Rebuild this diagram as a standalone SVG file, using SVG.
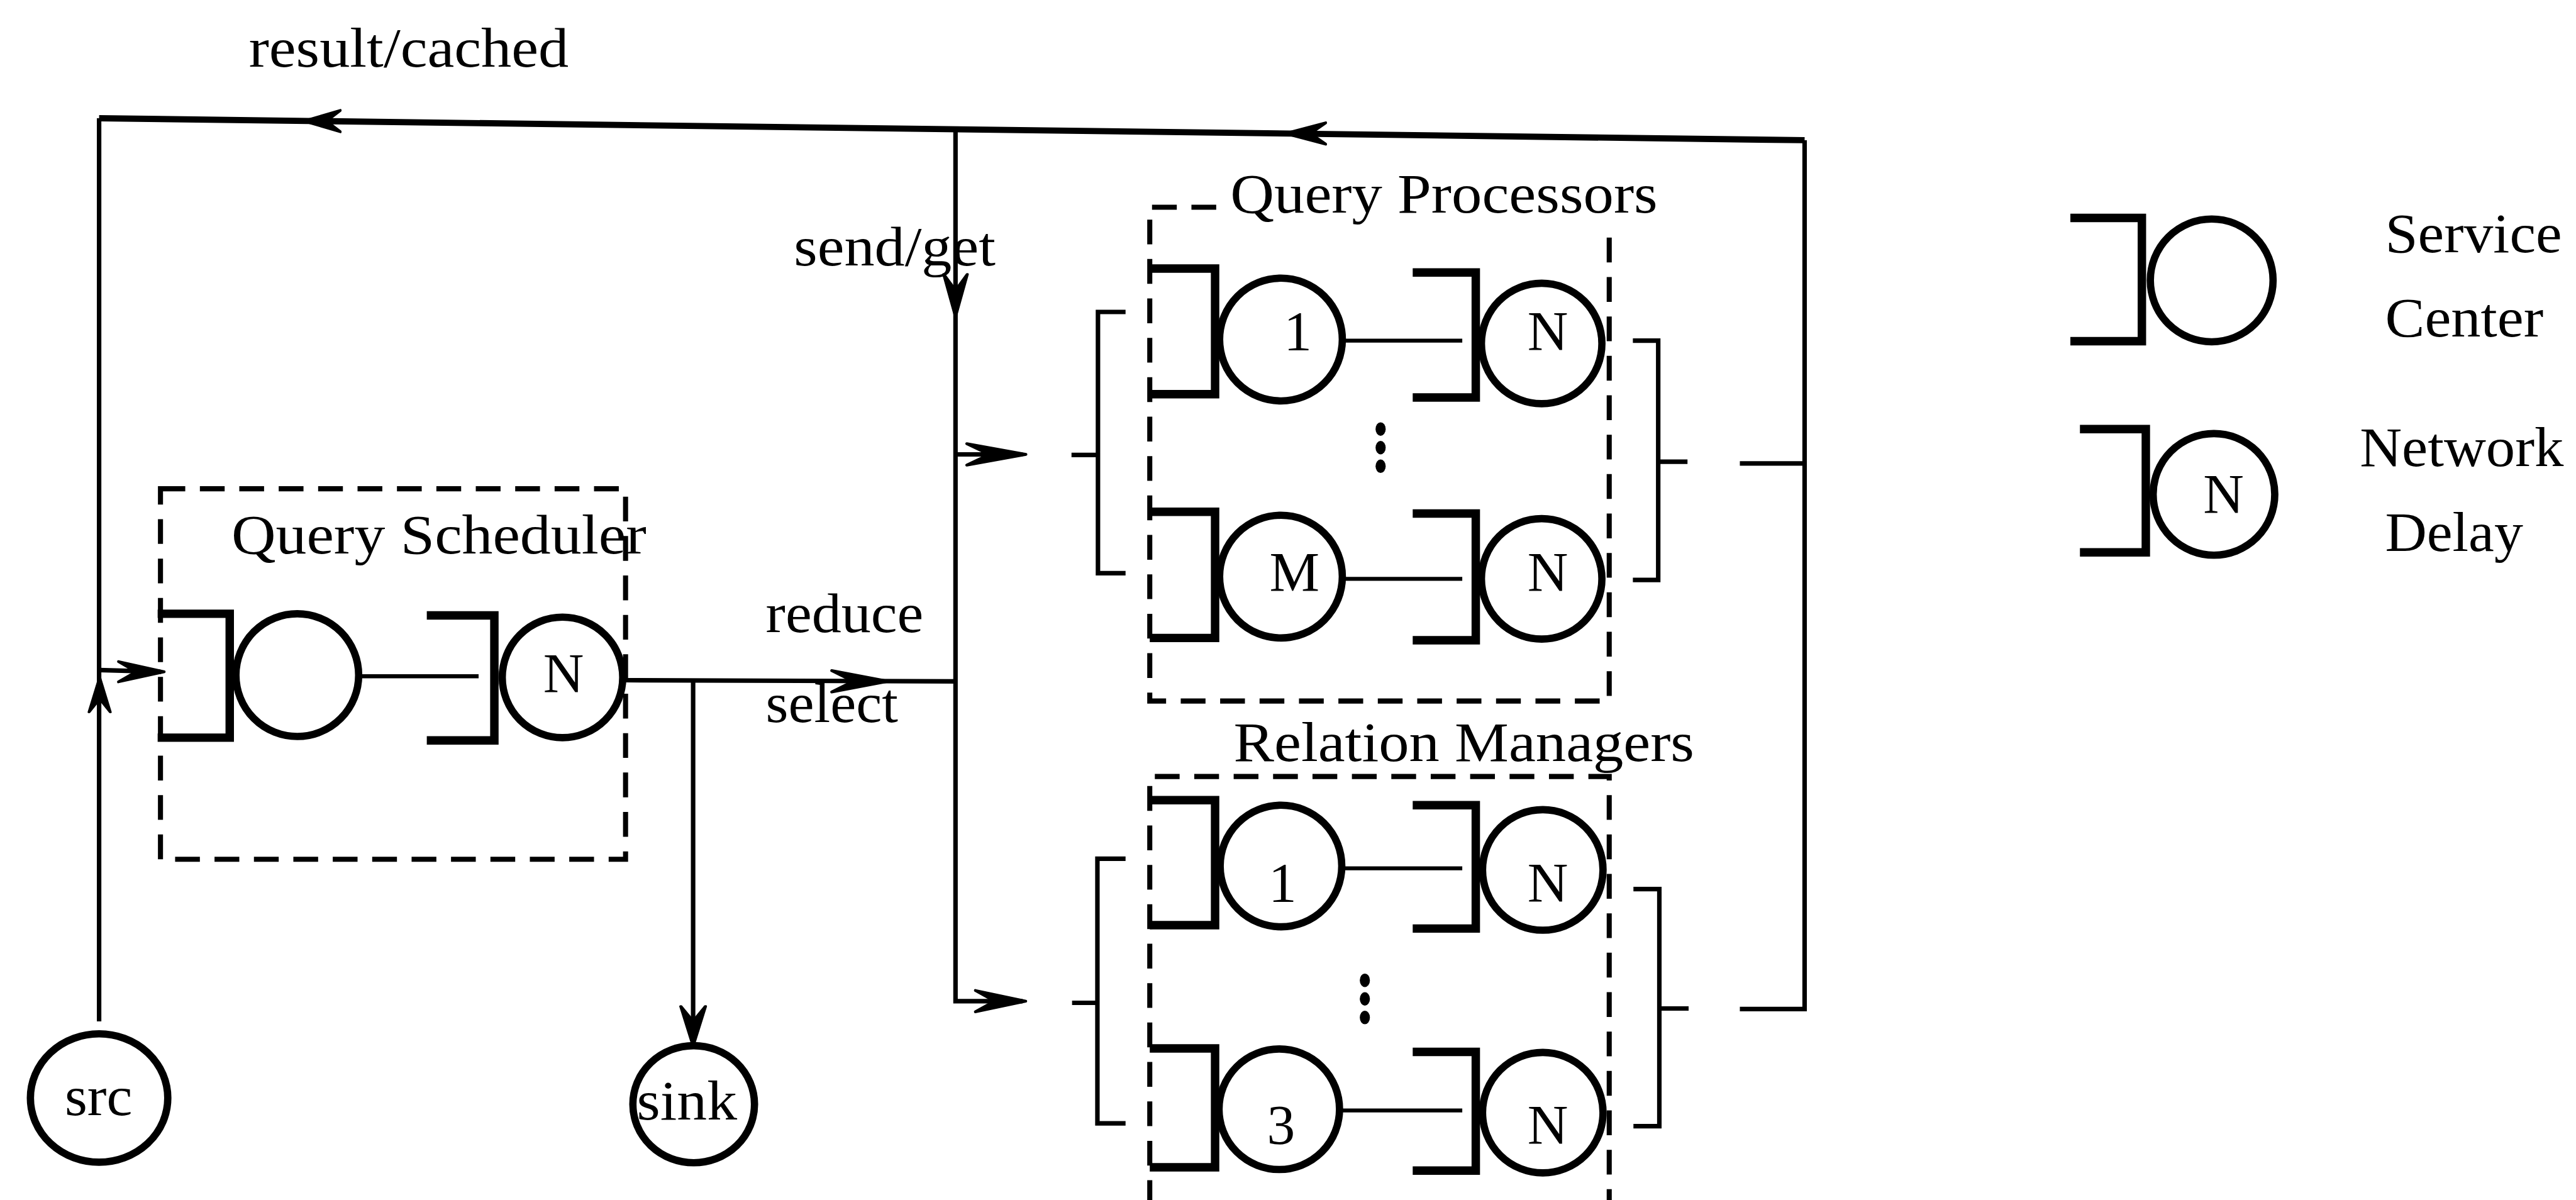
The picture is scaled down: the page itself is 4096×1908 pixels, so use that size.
<svg xmlns="http://www.w3.org/2000/svg" xmlns:xlink="http://www.w3.org/1999/xlink" width="4096" height="1908" viewBox="0 0 4096 1908">
<style>
.ln{fill:none;stroke:#000;stroke-width:8;stroke-linecap:butt}
.top{stroke-width:11}
.thin{stroke-width:7}
.br{fill:none;stroke:#000;stroke-width:15;stroke-linejoin:miter}
.ci{fill:none;stroke:#000;stroke-width:13}
.db{fill:none;stroke:#000;stroke-width:9;stroke-dasharray:44 26}
.t{font-family:"Liberation Serif","Times New Roman",serif;font-size:100px;fill:#000}
.c{text-anchor:middle}
.dot{fill:#000}
</style>
<defs>
<path id="ah" d="M0,0 L-100,-19 L-62,0 L-100,19 Z" fill="#000" stroke="#000" stroke-width="5" stroke-linejoin="round"/>
</defs>
<rect width="4096" height="1908" fill="#fff"/>
<g transform="scale(0.8953)">
<g id="connectors">
<path class="ln top" d="M176,210 L3205,249"/>
<path class="ln" d="M176,210 V1814"/>
<path class="ln" d="M176,1190 L286,1193"/>
<path class="ln" d="M1697,230 V1778 H1816"/>
<path class="ln" d="M1697,807 H1816"/>
<path class="ln" d="M1108,1208 L1697,1210"/>
<path class="ln" d="M1231,1209 V1852"/>
<path class="ln" d="M3205,249 V1792 H3090"/>
<path class="ln" d="M3090,823 H3205"/>
<path class="ln" d="M1999,554 H1950 V1018 H1999 M1903,808 H1950"/>
<path class="ln" d="M2900,605 H2945 V1030 H2900 M2945,820 H2997"/>
<path class="ln" d="M1999,1525 H1949 V1995 H1999 M1904,1781 H1949"/>
<path class="ln" d="M2901,1579 H2947 V2000 H2901 M2947,1791 H2999"/>
<use xlink:href="#ah" transform="translate(540,215) rotate(180) scale(0.65,1)"/>
<use xlink:href="#ah" transform="translate(2283,237) rotate(180) scale(0.72,1)"/>
<use xlink:href="#ah" transform="translate(1697,562) rotate(90) scale(0.75,1.1)"/>
<use xlink:href="#ah" transform="translate(1822,807) scale(1.05,1)"/>
<use xlink:href="#ah" transform="translate(1822,1778) scale(0.9,1)"/>
<use xlink:href="#ah" transform="translate(1577,1210) scale(1,1)"/>
<use xlink:href="#ah" transform="translate(1231,1857) rotate(90) scale(0.7,1.15)"/>
<use xlink:href="#ah" transform="translate(177,1203) rotate(-90) scale(0.62,1)"/>
<use xlink:href="#ah" transform="translate(292,1193) scale(0.82,0.95)"/>
</g>
<g id="labels">
<text class="t" x="442" y="118" textLength="568" lengthAdjust="spacingAndGlyphs">result/cached</text>
<text class="t" x="1410" y="471" textLength="358" lengthAdjust="spacingAndGlyphs">send/get</text>
<text class="t" x="1360" y="1122" textLength="280" lengthAdjust="spacingAndGlyphs">reduce</text>
<text class="t" x="1360" y="1282" textLength="235" lengthAdjust="spacingAndGlyphs">select</text>
</g>
<g id="src">
<ellipse class="ci" cx="176" cy="1950" rx="122" ry="114"/>
<text class="t" x="115" y="1980" textLength="120" lengthAdjust="spacingAndGlyphs">src</text>
</g>
<g id="sink">
<ellipse class="ci" cx="1232" cy="1961" rx="108" ry="104"/>
<text class="t" x="1131" y="1988" textLength="178" lengthAdjust="spacingAndGlyphs">sink</text>
</g>
<g id="query-scheduler">
<rect class="db" x="285" y="868" width="826" height="658"/>
<text class="t" x="411" y="983" textLength="737" lengthAdjust="spacingAndGlyphs">Query Scheduler</text>
<path class="br" d="M280,1090 H408 V1310 H280"/>
<circle class="ci" cx="528" cy="1199" r="109"/>
<path class="ln thin" d="M637,1201 H850"/>
<path class="br" d="M758,1093 H878 V1315 H758"/>
<circle class="ci" cx="999" cy="1203" r="107"/>
<text class="t c" x="1001" y="1229">N</text>
</g>
<g id="query-processors">
<path class="db" d="M2160,368 H2042 V1245 H2858 V396"/>
<text class="t" x="2185" y="378" textLength="759" lengthAdjust="spacingAndGlyphs">Query Processors</text>
<path class="br" d="M2042,477 H2158 V700 H2042"/>
<circle class="ci" cx="2275" cy="603" r="109"/>
<text class="t c" x="2305" y="621">1</text>
<path class="ln thin" d="M2386,605 H2597"/>
<path class="br" d="M2509,484 H2621 V706 H2509"/>
<circle class="ci" cx="2738" cy="610" r="107"/>
<text class="t c" x="2749" y="621">N</text>
<ellipse class="dot" cx="2452" cy="762" rx="9" ry="12"/>
<ellipse class="dot" cx="2452" cy="795" rx="9" ry="12"/>
<ellipse class="dot" cx="2452" cy="828" rx="9" ry="12"/>
<path class="br" d="M2042,909 H2158 V1133 H2042"/>
<circle class="ci" cx="2275" cy="1024" r="109"/>
<text class="t c" x="2299" y="1049">M</text>
<path class="ln thin" d="M2386,1028 H2597"/>
<path class="br" d="M2509,912 H2621 V1137 H2509"/>
<circle class="ci" cx="2738" cy="1028" r="107"/>
<text class="t c" x="2749" y="1049">N</text>
</g>
<g id="relation-managers">
<path class="db" d="M2042,2140 V1379 H2858 V2140"/>
<text class="t" x="2191" y="1351" textLength="818" lengthAdjust="spacingAndGlyphs">Relation Managers</text>
<path class="br" d="M2042,1421 H2158 V1643 H2042"/>
<circle class="ci" cx="2275" cy="1538" r="108"/>
<text class="t c" x="2278" y="1601">1</text>
<path class="ln thin" d="M2386,1542 H2597"/>
<path class="br" d="M2509,1430 H2621 V1649 H2509"/>
<circle class="ci" cx="2740" cy="1545" r="107"/>
<text class="t c" x="2749" y="1601">N</text>
<ellipse class="dot" cx="2424" cy="1741" rx="9" ry="12"/>
<ellipse class="dot" cx="2424" cy="1774" rx="9" ry="12"/>
<ellipse class="dot" cx="2424" cy="1807" rx="9" ry="12"/>
<path class="br" d="M2042,1862 H2158 V2073 H2042"/>
<circle class="ci" cx="2272" cy="1970" r="107"/>
<text class="t c" x="2275" y="2031">3</text>
<path class="ln thin" d="M2381,1972 H2597"/>
<path class="br" d="M2509,1868 H2621 V2079 H2509"/>
<circle class="ci" cx="2740" cy="1976" r="107"/>
<text class="t c" x="2749" y="2031">N</text>
</g>
<g id="legend-service-center">
<path class="br" d="M3677,387 H3804 V606 H3677"/>
<circle class="ci" cx="3928" cy="498" r="109"/>
<text class="t" x="4236" y="448" textLength="314" lengthAdjust="spacingAndGlyphs">Service</text>
<text class="t" x="4236" y="598" textLength="281" lengthAdjust="spacingAndGlyphs">Center</text>
</g>
<g id="legend-network-delay">
<path class="br" d="M3694,762 H3811 V981 H3694"/>
<circle class="ci" cx="3932" cy="878" r="108"/>
<text class="t c" x="3949" y="910">N</text>
<text class="t" x="4191" y="828" textLength="362" lengthAdjust="spacingAndGlyphs">Network</text>
<text class="t" x="4236" y="979" textLength="245" lengthAdjust="spacingAndGlyphs">Delay</text>
</g>
</g>
</svg>
